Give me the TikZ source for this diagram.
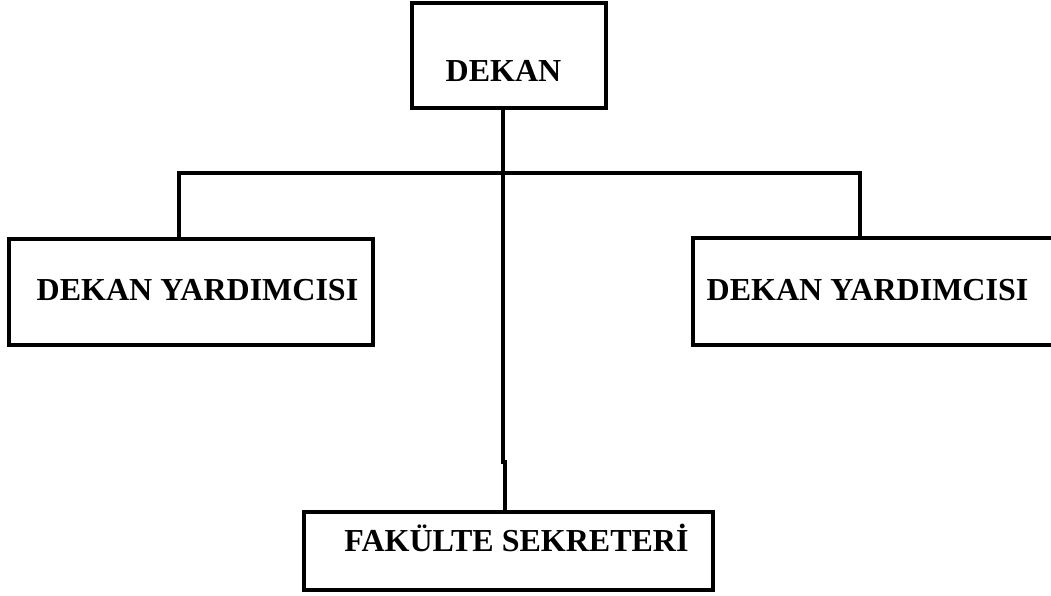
\documentclass[tikz,border=0pt]{standalone}
\usepackage{fontspec}
\setmainfont{Liberation Serif}
\begin{document}
\begin{tikzpicture}[x=1pt, y=-1pt, line width=4pt,
  unit/.style={shape=rectangle, draw=black, line width=4pt, inner sep=0pt},
  every label/.style={font=\fontsize{32}{38}\selectfont\bfseries, inner sep=0pt}]
\useasboundingbox (0,0) rectangle (1051,595);
\node[unit, minimum width=194, minimum height=105, label={[xshift=-5.5pt, yshift=-15pt]center:DEKAN}] (dekan) at (509,55.5) {};
\node[unit, minimum width=364, minimum height=106, label={[xshift=6.5pt, yshift=2pt]center:DEKAN YARDIMCISI}] (yrd1) at (191,292) {};
\node[unit, minimum width=377, minimum height=107, label={[xshift=-14pt, yshift=1.5pt]center:DEKAN YARDIMCISI}] (yrd2) at (881.5,291.5) {};
\node[unit, minimum width=409, minimum height=78, label={[xshift=8pt, yshift=13pt]center:FAK\"ULTE SEKRETER\.I}] (sekreter) at (508.5,551) {};
\coordinate (busL) at (179,173);
\coordinate (busR) at (860,173);
\coordinate (stem) at (502.5,462);
\coordinate (jog) at (504.5,462);
\draw (yrd1.north -| busL) -- (busL) -- (busR) -- (yrd2.north -| busR);
\draw (dekan.south -| stem) -- (stem) -- (jog) -- (sekreter.north -| jog);
\end{tikzpicture}
\end{document}
